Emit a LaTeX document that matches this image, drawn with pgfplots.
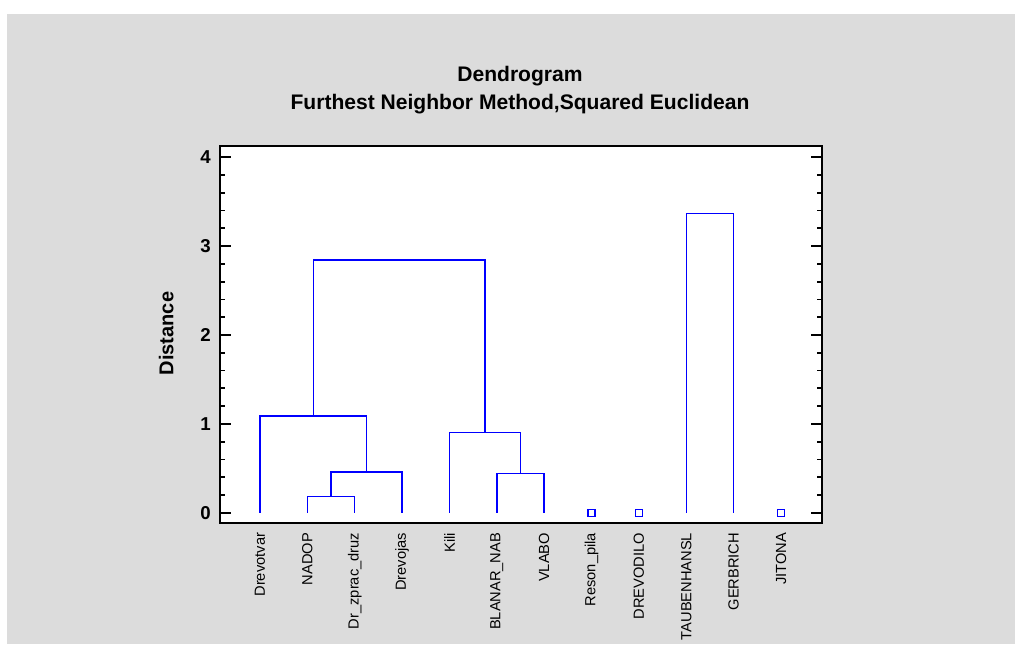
\documentclass[border=0pt]{standalone}
\usepackage{pgfplots}
\pgfplotsset{compat=1.18}
\usepackage{fontspec}
\setmainfont{Liberation Sans}
\definecolor{bggray}{RGB}{220,220,220}
\definecolor{dblue}{RGB}{0,0,255}

\begin{document}
\begin{tikzpicture}[x=0.75pt,y=0.75pt]
\path[use as bounding box] (0,0) rectangle (1015,644);
\fill[white] (0,0) rectangle (1015,644);
\fill[bggray] (7,0) rectangle (1015,630);
\begin{axis}[
  at={(165pt,90.525pt)}, anchor=south west, scale only axis,
  width=451.5pt, height=283.2pt,
  xmin=0.155, xmax=12.866, ymin=-0.119, ymax=4.13,
  axis background/.style={fill=white},
  axis line style={line width=1.5pt, black},
  xtick={1,...,12},
  xticklabels={Drevotvar,NADOP,Dr\_zprac\_druz,Drevojas,Kili,BLANAR\_NAB,VLABO,Reson\_pila,DREVODILO,TAUBENHANSL,GERBRICH,JITONA},
  x tick style={draw=none},
  xtick pos=bottom,
  xticklabel style={rotate=90, anchor=east, inner sep=0pt, xshift=-7pt, font=\fontsize{11}{13}\selectfont},
  ytick={0,1,2,3,4},
  yticklabels={0,1,2,3,4},
  minor y tick num=4,
  ytick pos=both,
  yticklabel pos=left,
  tick align=inside,
  major tick length=8.25pt,
  minor tick length=4pt,
  y tick style={line width=1.3pt, black},
  yticklabel style={font=\bfseries\fontsize{14}{16}\selectfont, inner sep=0pt, xshift=-6.75pt},
]
\addplot[dblue, line width=1.1pt] coordinates {(2,0) (2,0.183) (3,0.183) (3,0)};
\addplot[dblue, line width=1.1pt] coordinates {(2.5,0.183) (2.5,0.457) (4,0.457) (4,0)};
\addplot[dblue, line width=1.1pt] coordinates {(1,0) (1,1.09) (3.25,1.09) (3.25,0.457)};
\addplot[dblue, line width=1.1pt] coordinates {(6,0) (6,0.44) (7,0.44) (7,0)};
\addplot[dblue, line width=1.1pt] coordinates {(5,0) (5,0.90) (6.5,0.90) (6.5,0.44)};
\addplot[dblue, line width=1.1pt] coordinates {(2.125,1.09) (2.125,2.843) (5.75,2.843) (5.75,0.90)};
\addplot[dblue, line width=1.1pt] coordinates {(10,0) (10,3.367) (11,3.367) (11,0)};
\addplot[only marks, mark=square, mark size=2.6pt, dblue, mark options={line width=1pt}] coordinates {(8,0) (9,0) (12,0)};
\end{axis}
\node[anchor=base, font=\bfseries\fontsize{15.8}{18}\selectfont] at (520,562.3) {Dendrogram};
\node[anchor=base, font=\bfseries\fontsize{15.8}{18}\selectfont] at (520,534.7) {Furthest Neighbor Method,Squared Euclidean};
\node[rotate=90, anchor=base, inner sep=0pt, font=\bfseries\fontsize{15}{18}\selectfont] at (173.3,310.5) {Distance};
\end{tikzpicture}
\end{document}
